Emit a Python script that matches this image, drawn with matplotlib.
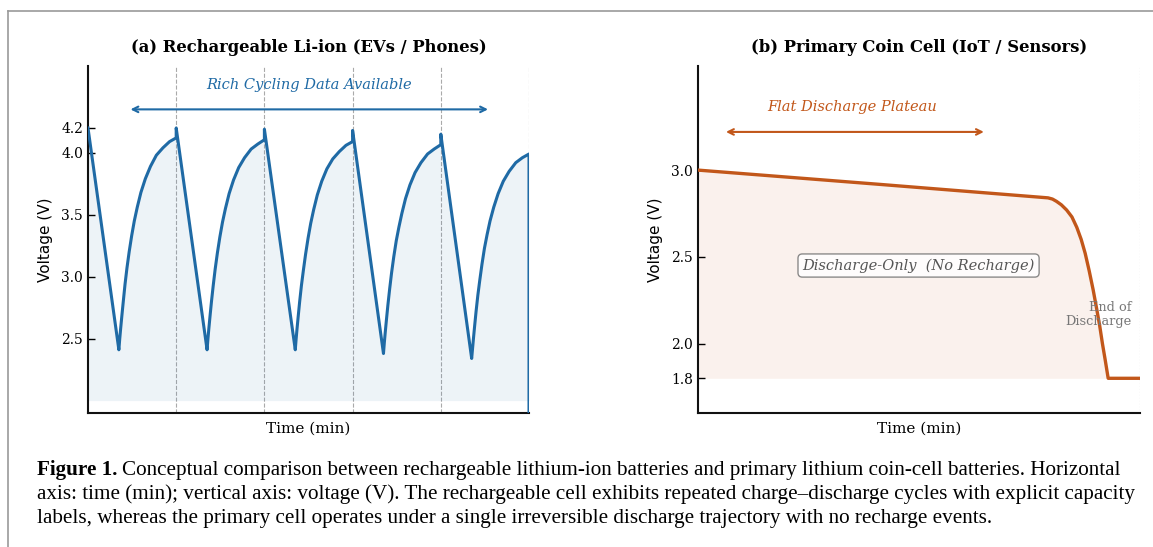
import matplotlib
matplotlib.use("Agg")
import matplotlib.pyplot as plt
from matplotlib.lines import Line2D

# ── data: rechargeable Li-ion, 5 cycles of 60 min ─────────────────
cycle_len = 60
# time inside a cycle: spike at 0, linear discharge to the minimum at 21, then recharge
phase_t = [0, 21, 21.6, 22.2, 23, 24, 25.2, 26.5, 28, 29.7, 31.5, 33.5, 36, 39,
           42.5, 46.5, 51, 55.5, 60]
cyc1_v = [4.20, 2.41, 2.50, 2.58, 2.68, 2.80, 2.94, 3.07, 3.20, 3.33, 3.45, 3.56,
          3.68, 3.79, 3.89, 3.98, 4.04, 4.09, 4.12]
cyc2_v = [4.20, 2.41, 2.50, 2.58, 2.68, 2.80, 2.93, 3.06, 3.19, 3.32, 3.44, 3.55,
          3.67, 3.78, 3.88, 3.96, 4.03, 4.07, 4.105]
cyc3_v = [4.19, 2.41, 2.50, 2.58, 2.68, 2.80, 2.93, 3.05, 3.18, 3.31, 3.43, 3.54,
          3.66, 3.77, 3.87, 3.95, 4.01, 4.06, 4.09]
cyc4_v = [4.18, 2.38, 2.47, 2.55, 2.65, 2.77, 2.90, 3.03, 3.16, 3.29, 3.40, 3.51,
          3.63, 3.74, 3.84, 3.92, 3.99, 4.03, 4.065]
cyc5_v = [4.15, 2.34, 2.42, 2.50, 2.60, 2.72, 2.85, 2.97, 3.10, 3.23, 3.34, 3.45,
          3.56, 3.67, 3.77, 3.85, 3.92, 3.96, 3.99]
li_end_v = 1.0          # trace falls off the axis at the right edge
li_yticks = [2.5, 3.0, 3.5, 4.0, 4.2]

# ── data: primary coin cell ───────────────────────────────────────
coin_t = [0, 40, 79.2, 80.2, 81.1, 82.2, 83.4, 84.6, 85.7, 86.7, 87.6, 88.5,
          89.4, 90.2, 90.9, 91.5, 92.1, 92.8, 100]
coin_v = [3.00, 2.92, 2.84, 2.833, 2.82, 2.80, 2.77, 2.73, 2.67, 2.60, 2.52, 2.42,
          2.31, 2.20, 2.10, 2.00, 1.91, 1.80, 1.80]
coin_yticks = [1.8, 2.0, 2.5, 3.0]

BLUE = '#1f6aa5'
ORANGE = '#c2571a'
SERIF = 'DejaVu Serif'

li_t, li_v = [], []
for k, cv in enumerate([cyc1_v, cyc2_v, cyc3_v, cyc4_v, cyc5_v]):
    li_t += [k * cycle_len + p for p in phase_t]
    li_v += cv
n_cycles = 5
li_t.append(n_cycles * cycle_len)
li_v.append(li_end_v)

W, H = 1153, 547
fig = plt.figure(figsize=(W / 100, H / 100), dpi=100)
fig.patch.set_facecolor('white')

def px_axes(x0, x1, ytop, ybot):
    return fig.add_axes([x0 / W, 1 - ybot / H, (x1 - x0) / W, (ybot - ytop) / H])

def style(ax):
    for s in ['top', 'right']:
        ax.spines[s].set_visible(False)
    for s in ['left', 'bottom']:
        ax.spines[s].set_linewidth(1.5)
        ax.spines[s].set_color('#111111')
    ax.tick_params(axis='y', direction='in', length=5, width=1, labelsize=10)
    ax.tick_params(axis='x', length=0, labelbottom=False)
    for lab in ax.get_yticklabels():
        lab.set_fontfamily(SERIF)
    ax.set_xlabel('Time (min)', fontsize=11, family=SERIF, labelpad=6)
    ax.set_ylabel('Voltage (V)', fontsize=11, family='DejaVu Sans', labelpad=6)

# ── (a) rechargeable ──────────────────────────────────────────────
ax1 = px_axes(88, 529, 66, 413)
ax1.set_xlim(0, n_cycles * cycle_len)
ax1.set_ylim(1.9, 4.7)
ax1.set_yticks(li_yticks)
ax1.set_yticklabels([f'{v:.1f}' for v in li_yticks])
for k in range(1, n_cycles + 1):
    ax1.axvline(k * cycle_len, color='#aaaaaa', ls='--', lw=0.8, zorder=1)
ax1.fill_between(li_t, li_v, 2.0, where=[v >= 2.0 for v in li_v],
                 color=BLUE, alpha=0.08, lw=0, zorder=1)
ax1.plot(li_t, li_v, color=BLUE, lw=2.2, zorder=3, solid_joinstyle='round')
ax1.annotate('', xy=(274, 4.35), xytext=(27, 4.35),
             arrowprops=dict(arrowstyle='<->', color=BLUE, lw=1.5))
ax1.text(150.5, 4.545, 'Rich Cycling Data Available', color=BLUE, fontsize=10.5,
         style='italic', family=SERIF, ha='center', va='center')
ax1.set_title('(a) Rechargeable Li-ion (EVs / Phones)', fontsize=11.8,
              fontweight='bold', family=SERIF, pad=10)
style(ax1)

# ── (b) primary coin cell ─────────────────────────────────────────
ax2 = px_axes(698, 1140, 66, 413)
ax2.set_xlim(0, 100)
ax2.set_ylim(1.6, 3.6)
ax2.set_yticks(coin_yticks)
ax2.set_yticklabels([f'{v:.1f}' for v in coin_yticks])
ax2.axvline(100, color='#aaaaaa', ls=':', lw=0.8, zorder=1)
ax2.fill_between(coin_t, coin_v, 1.8, color=ORANGE, alpha=0.08, lw=0, zorder=1)
ax2.plot(coin_t, coin_v, color=ORANGE, lw=2.4, zorder=3, solid_joinstyle='round')
ax2.annotate('', xy=(65.3, 3.22), xytext=(5.7, 3.22),
             arrowprops=dict(arrowstyle='<->', color=ORANGE, lw=1.5))
ax2.text(34.9, 3.366, 'Flat Discharge Plateau', color=ORANGE, fontsize=10.5,
         style='italic', family=SERIF, ha='center', va='center')
ax2.text(49.9, 2.45, 'Discharge-Only  (No Recharge)', color='#555555', fontsize=10.5,
         style='italic', family=SERIF, ha='center', va='center',
         bbox=dict(boxstyle='round,pad=0.3', fc='white', ec='#777777', alpha=0.85, lw=1))
ax2.text(98, 2.17, 'End of\nDischarge', color='#777777', fontsize=9.3, family=SERIF,
         ha='right', va='center', linespacing=1.1)
ax2.set_title('(b) Primary Coin Cell (IoT / Sensors)', fontsize=11.8,
              fontweight='bold', family=SERIF, pad=10)
style(ax2)

# ── page frame lines ──────────────────────────────────────────────
fig.add_artist(Line2D([8 / W, 1], [1 - 11 / H, 1 - 11 / H], color='#9a9a9a', lw=1.2))
fig.add_artist(Line2D([8 / W, 8 / W], [0, 1 - 11 / H], color='#9a9a9a', lw=1.2))

# ── caption ───────────────────────────────────────────────────────
CAP = 'Liberation Serif'
cap_size = 15.2
cap_lines = [
    'Conceptual comparison between rechargeable lithium-ion batteries and primary lithium coin-cell batteries. Horizontal',
    'axis: time (min); vertical axis: voltage (V). The rechargeable cell exhibits repeated charge\u2013discharge cycles with explicit capacity',
    'labels, whereas the primary cell operates under a single irreversible discharge trajectory with no recharge events.',
]
cap_y = [470, 494, 518]
x0 = 37
r = fig.canvas.get_renderer()
bold = fig.text(x0 / W, 1 - cap_y[0] / H, 'Figure 1.', fontsize=cap_size, family=CAP,
                fontweight='bold', va='center', ha='left')
bw = bold.get_window_extent(r).width
fig.text((x0 + bw + 5) / W, 1 - cap_y[0] / H, cap_lines[0], fontsize=cap_size,
         family=CAP, va='center', ha='left')
for line, y in zip(cap_lines[1:], cap_y[1:]):
    fig.text(x0 / W, 1 - y / H, line, fontsize=cap_size, family=CAP,
             va='center', ha='left')

fig.savefig('out.png', dpi=100, facecolor='white')
